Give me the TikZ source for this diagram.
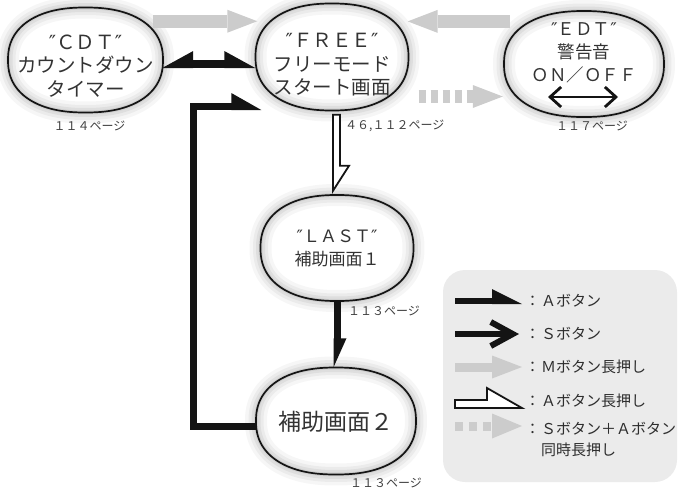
\documentclass[tikz,border=0pt]{standalone}
\usepackage{fontspec}
\setmainfont{Noto Sans CJK JP}
\newfontfamily\qfont{DejaVu Sans}
\usetikzlibrary{arrows.meta,calc,backgrounds,shapes.geometric}

\pgfdeclarearrow{
  name = HalfA,
  defaults = {length=30pt, width=13pt, inset=4pt},
  parameters = {\the\pgfarrowlength,\the\pgfarrowwidth,\the\pgfarrowinset},
  setup code = {
    \pgfarrowssettipend{0pt}
    \pgfarrowssetlineend{-22pt}
  },
  drawing code = {
    \pgfpathmoveto{\pgfqpoint{0pt}{-\pgfarrowinset}}
    \pgfpathlineto{\pgfqpoint{-\pgfarrowlength}{\pgfarrowwidth}}
    \pgfpathlineto{\pgfqpoint{-\pgfarrowlength}{-\pgfarrowinset}}
    \pgfpathclose
    \pgfusepathqfill
  }
}
\pgfdeclarearrow{
  name = HalfB,
  defaults = {length=30pt, width=13pt, inset=4pt},
  parameters = {\the\pgfarrowlength,\the\pgfarrowwidth,\the\pgfarrowinset},
  setup code = {
    \pgfarrowssettipend{0pt}
    \pgfarrowssetlineend{-22pt}
  },
  drawing code = {
    \pgfpathmoveto{\pgfqpoint{0pt}{\pgfarrowinset}}
    \pgfpathlineto{\pgfqpoint{-\pgfarrowlength}{-\pgfarrowwidth}}
    \pgfpathlineto{\pgfqpoint{-\pgfarrowlength}{\pgfarrowinset}}
    \pgfpathclose
    \pgfusepathqfill
  }
}

\newcommand\mySuperPath[4]{plot[domain=1.25:361.25, samples=145, variable=\t]
  ({#1+#3*cos(\t)*abs(cos(\t))^(-0.13)},{#2+#4*sin(\t)*abs(sin(\t))^(-0.13)}) -- cycle}
\newcommand\mySuperEll[4]{%
  \fill[white] \mySuperPath{#1}{#2}{#3}{#4};
  \foreach \w/\o in {22/0.035, 15/0.045, 9/0.055, 4/0.06}{
    \draw[line width=\w pt, black, opacity=\o] \mySuperPath{#1}{#2}{#3}{#4};
  }
  \draw[line width=1.7pt, black!92] \mySuperPath{#1}{#2}{#3}{#4};
}
\newcommand\qq{{\qfont ″}}
\newcommand\colbox{\makebox[17pt][c]{：}}

\begin{document}
\begin{tikzpicture}[x=1pt, y=-1pt,
  ell/.style 2 args={ellipse, minimum width=#1, minimum height=#2, inner sep=0pt},
  txt/.style={align=center, inner sep=0pt, text=black!80},
  pglabel/.style={inner sep=0pt, text=black!75, font=\fontsize{12}{14}\selectfont},
  legtext/.style={anchor=west, inner sep=0pt, align=left, text=black!82, font=\fontsize{15}{21}\selectfont},
  Ashaft/.style={draw=black!92, line width=8pt, line join=miter},
  Mline/.style={draw=black!20, line width=13pt, -{Triangle[length=30pt, width=23pt, line width=0pt]}},
  SAline/.style={Mline, dash pattern=on 7pt off 5pt},
  hollowarrow/.style={draw=black!92, fill=white, line width=1.8pt, line join=miter},
]
\useasboundingbox (0,0) rectangle (678,490);

% state nodes
\node[ell={155pt}{105pt}] (CDT) at (85.5,60) {};
\node[ell={153pt}{107pt}] (FREE) at (332,57) {};
\node[ell={160pt}{106pt}] (EDT) at (584,64) {};
\node[ell={153pt}{106pt}] (LAST) at (337,248) {};
\node[ell={160pt}{107pt}] (H2) at (336,421) {};

\begin{scope}[on background layer]
  \fill[black!8, rounded corners=22pt] (443,270) rectangle (677,482);
  \mySuperEll{85.5}{60}{77.5}{52.5}
  \mySuperEll{332}{57}{76.5}{53.5}
  \mySuperEll{584}{64}{80}{53}
  \mySuperEll{337}{248}{76.5}{53}
  \mySuperEll{336}{421}{80}{53.5}
\end{scope}

% texts in states
\node[txt, font=\fontsize{19.5}{23.5}\selectfont] (tCDT) at ($(CDT)+(0,6)$) {\qq ＣＤＴ\qq\\カウントダウン\\タイマー};
\node[txt, font=\fontsize{19.5}{23.5}\selectfont] (tFREE) at ($(FREE)+(0,8)$) {\qq ＦＲＥＥ\qq\\フリーモード\\スタート画面};
\node[txt, font=\fontsize{17.5}{23}\selectfont] (tEDT) at ($(EDT)+(0,-11)$) {\qq ＥＤＴ\qq\\警告音\\ＯＮ／ＯＦＦ};
\node[txt, font=\fontsize{17}{23}\selectfont] (tLAST) at ($(LAST)+(0,0)$) {\qq ＬＡＳＴ\qq\\補助画面１};
\node[txt, font=\fontsize{23}{26}\selectfont] (tH2) at ($(H2)+(0,1)$) {補助画面２};

% page labels
\node[pglabel] (p114) at ($(CDT.south)+(4,13)$) {１１４ページ};
\node[pglabel, anchor=west] (p46) at ($(FREE.south)+(13,15.5)$) {４６,１１２ページ};
\node[pglabel] (p117) at ($(EDT.south)+(8,9)$) {１１７ページ};
\node[pglabel, anchor=west] (p113a) at ($(LAST.south)+(11,10)$) {１１３ページ};
\node[pglabel, anchor=west] (p113b) at ($(H2.south)+(14,8.5)$) {１１３ページ};

% A button: CDT <-> FREE
\draw[Ashaft, {HalfB[length=31pt,width=13pt,inset=4pt]}-{HalfA[length=31pt,width=13pt,inset=4pt]}]
  ($(CDT.east)+(-1,4)$) -- ($(FREE.west)+(0,7)$);
% A button: H2 -> FREE (loop)
\draw[Ashaft, line width=7pt, -{HalfA[length=30pt,width=13.5pt,inset=3.5pt]}]
  ($(H2.west)+(1,5)$) -| (193.5,106.5) -- ($(FREE.west |- 0,106.5)+(6,0)$);
% A button: LAST -> H2
\draw[Ashaft, line width=7pt, -{HalfA[length=29pt,width=9.5pt,inset=3.5pt]}]
  (LAST.south) -- (LAST.south |- H2.north);
% A long press: FREE -> LAST
\draw[hollowarrow] ($(FREE.south)+(1,4)$) coordinate (ht)
  -- ($(ht |- LAST.north)+(0,-4)$) -- ++(16,-25) -- ++(-9,0) |- (ht) -- cycle;
% M long press
\draw[Mline] ($(CDT.north east)+(13,-1.5)$) coordinate (m1) -- ($(m1 -| FREE.west)+(2,0)$);
\draw[Mline] ($(EDT.north west)+(-17,-5)$) coordinate (m2) -- ($(m2 -| FREE.east)+(-1,0)$);
% S + A long press
\draw[SAline] ($(FREE.east)+(10,39.5)$) coordinate (d1) -- ($(d1 -| EDT.west)+(-1,0)$);
% S button inside EDT
\draw[draw=black!92, line width=2.8pt,
  {Straight Barb[length=11pt,width=20pt,line width=2.8pt]}-{Straight Barb[length=11pt,width=20pt,line width=2.8pt]}]
  ($(EDT.center)+(-36,33)$) -- ($(EDT.center)+(34,33)$);

% legend
\coordinate (l1) at (455,301);
\coordinate (l2) at (455,334);
\coordinate (l3) at (455,367);
\coordinate (l4) at (455,404);
\coordinate (l5) at (455,426);
\draw[Ashaft, line width=6pt, -{HalfA[length=30pt,width=12pt,inset=3pt]}] (l1) -- ++(67,0);
\draw[draw=black!92, line width=6pt, -{Straight Barb[length=22pt,width=24pt,line width=6pt]}] (l2) -- ++(64,0);
\draw[Mline, line width=9pt] (l3) -- ++(67,0);
\draw[hollowarrow] ($(l4)+(0,-4)$) -- ++(32,0) -- ++(0,-12) -- ++(35,20) -- ++(-67,0) -- cycle;
\draw[SAline, line width=9pt, dash pattern=on 8pt off 6pt, -{Triangle[length=30pt, width=25pt, line width=0pt]}] (l5) -- ++(67,0);

\node[legtext] (lt1) at (524,301) {\colbox Ａボタン};
\node[legtext] (lt2) at (524,334) {\colbox Ｓボタン};
\node[legtext] (lt3) at (524,367) {\colbox Ｍボタン長押し};
\node[legtext] (lt4) at (524,401) {\colbox Ａボタン長押し};
\node[legtext, anchor=north west] (lt5) at (524,422) {\colbox Ｓボタン＋Ａボタン\\\hspace*{17pt}同時長押し};
\end{tikzpicture}
\end{document}
